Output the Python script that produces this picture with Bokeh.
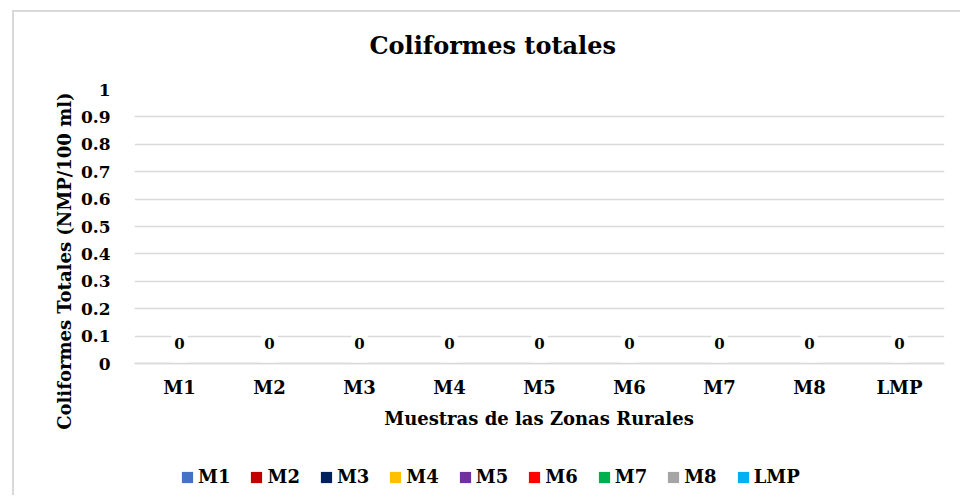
from bokeh.plotting import figure
from bokeh.models import (FactorRange, Range1d, FixedTicker, ColumnDataSource, Legend,
                          LegendItem, Label)
from bokeh.core.properties import value
from bokeh.embed import file_html
from bokeh.resources import INLINE

categories = ["M1", "M2", "M3", "M4", "M5", "M6", "M7", "M8", "LMP"]
values = [0, 0, 0, 0, 0, 0, 0, 0, 0]
series_colors = ["#4472C4", "#C00000", "#002060", "#FFC000", "#7030A0",
                 "#FF0000", "#00B050", "#A5A5A5", "#00B0F0"]
y_ticks = [0, 0.1, 0.2, 0.3, 0.4, 0.5, 0.6, 0.7, 0.8, 0.9, 1]
y_tick_labels = ["0", "0.1", "0.2", "0.3", "0.4", "0.5", "0.6", "0.7", "0.8", "0.9", "1"]
title_text = "Coliformes totales"
x_title = "Muestras de las Zonas Rurales"
y_title = "Coliformes Totales (NMP/100 ml)"

FONT = "DejaVu Serif"
GRID = "#D9D9D9"
W, H = 960, 495
# the plot frame reaches the bottom of the canvas so that the axis title and
# the legend beneath the value axis are drawn inside it; the value axis keeps
# 0..1 over the same 274 px as the reference (0 at 363 px, 1 at 89 px)
Y_MIN = -(H - 363) / 274

source = ColumnDataSource(dict(cat=categories, val=values, color=series_colors,
                               txt=[str(v) for v in values]))

p = figure(x_range=FactorRange(*categories), y_range=Range1d(Y_MIN, 1),
           width=W, height=H, output_backend="svg", toolbar_location=None,
           min_border_left=134, min_border_right=16, min_border_top=89, min_border_bottom=0)
p.outline_line_color = None
p.background_fill_color = "white"
p.border_fill_alpha = 0
p.styles = {
    "background": ("linear-gradient(#D9D9D9, #D9D9D9) 12px 10px / 100% 2px no-repeat, "
                   "linear-gradient(#D9D9D9, #D9D9D9) 12px 10px / 2px 100% no-repeat"),
}

bars = p.vbar(x="cat", top="val", width=0.6, fill_color="color", line_color=None, source=source)

p.text(x="cat", y="val", text="txt", source=source, text_font=value(FONT),
       text_font_style="bold", text_font_size="15px", text_color="black",
       text_align="center", text_baseline="middle", y_offset=-20,
       background_fill_color="white", padding=(3, 14))

p.xgrid.visible = False
p.ygrid.grid_line_color = GRID
p.ygrid.grid_line_width = 1.5
p.yaxis.ticker = FixedTicker(ticks=y_ticks)
p.ygrid.ticker = FixedTicker(ticks=y_ticks)
p.yaxis.major_label_overrides = {t: l for t, l in zip(y_ticks, y_tick_labels)}
p.yaxis.axis_line_color = None
p.yaxis.major_tick_line_color = None
p.yaxis.minor_tick_line_color = None
p.yaxis.major_label_standoff = 18
for ax in (p.xaxis[0], p.yaxis[0]):
    ax.major_label_text_font = FONT
    ax.major_label_text_font_style = "bold"
    ax.major_label_text_font_size = "17px"
    ax.major_label_text_color = "black"
    ax.axis_label_text_font = FONT
    ax.axis_label_text_font_style = "bold"
    ax.axis_label_text_font_size = "18px"
    ax.axis_label_text_color = "black"
p.xaxis.major_label_text_font_size = "18px"

# y-axis title: leading no-break spaces move the centred text up to where
# the reference has it
p.yaxis.axis_label = "\u00a0" * 10 + y_title
p.yaxis.axis_label_standoff = 3

# category axis drawn on the zero line
p.xaxis.fixed_location = 0
p.xaxis.axis_line_color = GRID
p.xaxis.axis_line_width = 1.5
p.xaxis.major_tick_line_color = None
p.xaxis.minor_tick_line_color = None
p.xaxis.major_label_standoff = 7

p.add_layout(Label(x=404.5, y=H - 418, x_units="screen", y_units="screen", text=x_title,
                   text_align="center", text_baseline="middle", text_font=FONT,
                   text_font_style="bold", text_font_size="18px", text_color="black"))

p.title.text = title_text
p.title.align = "left"
p.title.offset = 235
p.title.vertical_align = "middle"
p.title.standoff = 58
p.title.text_font = FONT
p.title.text_font_style = "bold"
p.title.text_font_size = "24px"
p.title.text_color = "black"

items = [LegendItem(label=c, renderers=[bars], index=i) for i, c in enumerate(categories)]
legend = Legend(items=items, orientation="horizontal", location=(46, 8),
                glyph_width=14, glyph_height=14, label_standoff=4, spacing=19,
                padding=0, margin=0, border_line_color=None, background_fill_alpha=0,
                label_text_font=FONT, label_text_font_style="bold",
                label_text_font_size="18px", label_text_color="black")
p.add_layout(legend)

open("out.html", "w").write(file_html(p, INLINE))
